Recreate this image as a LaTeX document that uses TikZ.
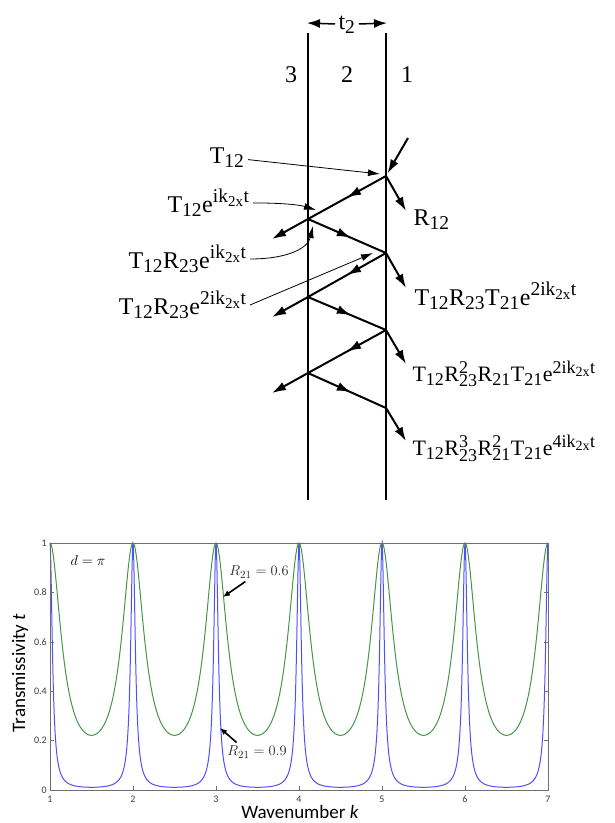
\documentclass[tikz,border=0pt]{standalone}
\usepackage{fontspec}
\setmainfont{Liberation Serif}
\newfontfamily\plotfont{Carlito}
\usetikzlibrary{arrows.meta,decorations.markings}
\definecolor{curvegreen}{RGB}{70,150,70}
\definecolor{curveblue}{RGB}{80,80,250}
\definecolor{axisgray}{RGB}{110,110,110}
\definecolor{ticktext}{RGB}{60,60,60}
\DeclareMathSizes{24}{24}{19.5}{15}
\DeclareMathSizes{22}{22}{18}{14}

\begin{document}
\begin{tikzpicture}[x=1pt,y=-1pt,
		wall/.style={line width=2.4pt},
		ray/.style={line width=2pt,-{Latex[length=14pt,width=9pt]}},
		midray/.style={line width=2pt,line cap=round,postaction={decorate},
			decoration={markings,mark=at position #1 with {\arrow{Latex[length=14pt,width=9pt]}}}},
		midray/.default=0.55,
		dim/.style={line width=1.5pt,-{Latex[length=13pt,width=9pt]}},
		note/.style={line width=0.8pt,-{Latex[length=12pt,width=7pt]}},
		lbl/.style={font=\fontsize{24}{28}\selectfont},
		rlbl/.style={font=\fontsize{22}{26}\selectfont},
		tick/.style={font=\plotfont\fontsize{10}{12}\selectfont,text=ticktext,inner sep=1pt},
		axlbl/.style={font=\plotfont\fontsize{19}{22}\selectfont,inner sep=1pt},
		pnote/.style={line width=1.6pt,-{Latex[length=7pt,width=6pt]}},
		plabel/.style={font=\fontsize{15}{18}\selectfont,text=black!85}
	]
	\useasboundingbox (0,0) rectangle (615,823);

	\draw[wall] (308,33) -- (308,500);
	\draw[wall] (386,33) -- (386,500);

	\node[lbl,anchor=base] (n3) at (291,82) {3};
	\node[lbl,anchor=base] (n2) at (347,82) {2};
	\node[lbl,anchor=base] (n1) at (407,82) {1};

	\node[lbl,anchor=base] (thick) at (347,29) {$\mathrm{t_2}$};
	\coordinate (dl) at (307,23);
	\coordinate (dr) at (387,23);
	\draw[dim] (thick) -- (dl);
	\draw[dim] (thick) -- (dr);

	\coordinate (src) at (408,138);
	\coordinate (A) at (386,176);
	\coordinate (B) at (308,219);
	\coordinate (C) at (386,253);
	\coordinate (D) at (308,297);
	\coordinate (E) at (386,330);
	\coordinate (F) at (308,373);
	\coordinate (G) at (386,408);
	\coordinate (r1) at (406,211);
	\coordinate (r2) at (406,288);
	\coordinate (r3) at (406,364);
	\coordinate (r4) at (406,441);
	\coordinate (m1) at (272,239);
	\coordinate (m2) at (272,317);
	\coordinate (m3) at (272,393);

	\draw[ray,shorten >=3pt] (src) -- (A);
	\draw[ray] (A) -- (r1);
	\foreach \p/\q/\o in {A/B/m1,C/D/m2,E/F/m3} {
		\draw[midray=0.5] (\p) -- (\q);
		\draw[ray] (\q) -- (\o);
	}
	\foreach \p/\q/\o in {B/C/r2,D/E/r3,F/G/r4} {
		\draw[midray] (\p) -- (\q);
		\draw[ray] (\q) -- (\o);
	}

	\node[lbl,anchor=base east] (lT) at (248,163) {$\mathrm{T_{12}}$};
	\node[lbl,anchor=base east] (lTe) at (253,212) {$\mathrm{T_{12}e^{ik_{2x}t}}$};
	\node[lbl,anchor=base east] (lTR) at (250,268) {$\mathrm{T_{12}R_{23}e^{ik_{2x}t}}$};
	\node[lbl,anchor=base east] (lTR2) at (250,314) {$\mathrm{T_{12}R_{23}e^{2ik_{2x}t}}$};
	\coordinate (tT) at (380,174);
	\coordinate (tTe) at (316,210);
	\coordinate (tTR) at (313,226);
	\coordinate (tTR2) at (373,253);
	\draw[note] (lT) -- (tT);
	\draw[note] (lTe.east) .. controls (285,203) and (300,205) .. (tTe);
	\draw[note] (lTR.east) .. controls (288,259) and (308,248) .. (tTR);
	\draw[note] (lTR2.east) -- (tTR2);

	\node[lbl,anchor=base west] (lR) at (410,225) {$\mathrm{R_{12}}$};
	\node[lbl,anchor=base west] (lo1) at (411,305) {$\mathrm{T_{12}R_{23}T_{21}e^{2ik_{2x}t}}$};
	\node[rlbl,anchor=base west] (lo2) at (409,381) {$\mathrm{T_{12}R_{23}^{2}R_{21}T_{21}e^{2ik_{2x}t}}$};
	\node[rlbl,anchor=base west] (lo3) at (409,455) {$\mathrm{T_{12}R_{23}^{3}R_{21}^{2}T_{21}e^{4ik_{2x}t}}$};

	\begin{scope}[shift={(-33,790)},x=83pt,y=247pt]
		\draw[curvegreen,line width=1pt] plot[domain=1:7,samples=1201] (\x,{0.4096/(0.4096+1.44*pow(sin(180*\x),2))});
		\draw[curveblue,line width=1pt] plot[domain=1:7,samples=1201] (\x,{0.0361/(0.0361+3.24*pow(sin(180*\x),2))});
		\draw[axisgray,line width=0.8pt] (1,0) rectangle (7,1);
		\foreach \k in {2,...,6} {
			\draw[axisgray] (\k,0) -- ++(0,4pt);
			\draw[axisgray] (\k,1) -- ++(0,-4pt);
		}
		\foreach \v in {0.2,0.4,0.6,0.8} {
			\draw[axisgray] (1,\v) -- ++(4pt,0);
			\draw[axisgray] (7,\v) -- ++(-4pt,0);
		}
		\foreach \k in {1,...,7}
			\node[tick] (kx\k) at ([yshift=-9pt]\k,0) {\k};
		\foreach \v/\n in {0/0,0.2/2,0.4/4,0.6/6,0.8/8,1/10}
			\node[tick,anchor=east] (ty\n) at ([xshift=-2pt]1,\v) {\v};
	\end{scope}

	\node[axlbl] (xl) at (300,812) {Wavenumber \textit{k}};
	\node[axlbl,rotate=90] (yl) at (20,673) {Transmissivity \textit{t}};
	\node[font=\fontsize{15}{18}\selectfont] (dpi) at (88,560) {$d=\pi$};
	\node[plabel] (lR6) at (259,572) {$R_{21}=0.6$};
	\node[plabel] (lR9) at (257,752) {$R_{21}=0.9$};
	\coordinate (tR6) at (223,597);
	\coordinate (tR9) at (220,728);
	\draw[pnote] (lR6.215) -- (tR6);
	\draw[pnote] (lR9.155) -- (tR9);
\end{tikzpicture}
\end{document}
